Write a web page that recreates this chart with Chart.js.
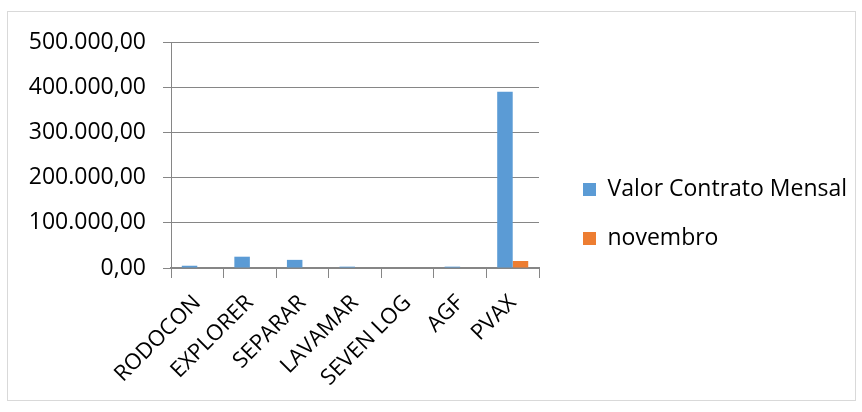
<!DOCTYPE html>
<html>
<head>
<meta charset="utf-8">
<script src="https://cdn.jsdelivr.net/npm/chart.js@4/dist/chart.umd.min.js"></script>
<style>
  html, body { margin: 0; padding: 0; background: #fff; }
  #wrap { position: relative; width: 862px; height: 412px; }
  #frame { position: absolute; left: 7px; top: 11px; width: 847px; height: 388px; border: 1px solid #d9d9d9; pointer-events: none; }
</style>
</head>
<body>
<div id="wrap">
  <canvas id="contratos" width="862" height="412"></canvas>
  <div id="frame"></div>
</div>
<script>
const categories = ["RODOCON", "EXPLORER", "SEPARAR", "LAVAMAR", "SEVEN LOG", "AGF", "PVAX"];
const valorContrato = [5000, 25000, 18000, 3000, 0, 3000, 390000];
const novembro = [0, 0, 0, 0, 0, 0, 15500];
const yTickLabels = ["0,00", "100.000,00", "200.000,00", "300.000,00", "400.000,00", "500.000,00"];

const fontFamily = "'Open Sans', sans-serif";
const axisGray = '#868686';

// legend sits a bit away from the plot, like the spreadsheet one
const legendPlace = {
  id: 'legendPlace',
  afterInit(chart) {
    const lg = chart.legend;
    const fit = lg.fit.bind(lg);
    lg.fit = function() {
      fit();
      this.width = 323;
    };
  },
  afterLayout(chart) {
    const lg = chart.legend;
    const w = lg.width;
    lg.left = 557;
    lg.right = lg.left + w;
    const h = lg.height;
    lg.top = 152;
    lg.bottom = lg.top + h;
  }
};

const ctx = document.getElementById('contratos');
new Chart(ctx, {
  type: 'bar',
  data: {
    labels: categories,
    datasets: [{
      label: 'Valor Contrato Mensal',
      data: valorContrato,
      backgroundColor: '#5B9BD5',
      borderWidth: 0,
      categoryPercentage: 0.59,
      barPercentage: 1.0
    }, {
      label: 'novembro',
      data: novembro,
      backgroundColor: '#ED7D31',
      borderWidth: 0,
      categoryPercentage: 0.59,
      barPercentage: 1.0
    }]
  },
  options: {
    responsive: false,
    animation: false,
    devicePixelRatio: 1,
    layout: {
      padding: { top: 42, left: 0, right: 0, bottom: 0 }
    },
    plugins: {
      tooltip: { enabled: false },
      legend: {
        position: 'right',
        align: 'start',
        labels: {
          color: '#000',
          boxWidth: 13,
          boxHeight: 13,
          padding: 26,
          font: { family: fontFamily, size: 23 }
        }
      }
    },
    scales: {
      y: {
        min: 0,
        max: 500000,
        afterFit(scale) { scale.width = 171; },
        border: { display: true, color: axisGray, width: 1 },
        grid: {
          color: axisGray,
          lineWidth: 1,
          tickLength: 8
        },
        ticks: {
          stepSize: 100000,
          padding: 17,
          color: '#000',
          font: { family: fontFamily, size: 23 },
          callback: function(value, index) { return yTickLabels[index]; }
        }
      },
      x: {
        afterFit(scale) { scale.height = 144; },
        border: { display: true, color: axisGray, width: 2 },
        grid: {
          drawOnChartArea: false,
          drawTicks: true,
          tickLength: 10,
          color: axisGray,
          lineWidth: 1
        },
        ticks: {
          minRotation: 45,
          maxRotation: 45,
          padding: 12,
          color: '#000',
          font: { family: fontFamily, size: 22 }
        }
      }
    }
  },
  plugins: [legendPlace]
});
</script>
</body>
</html>
